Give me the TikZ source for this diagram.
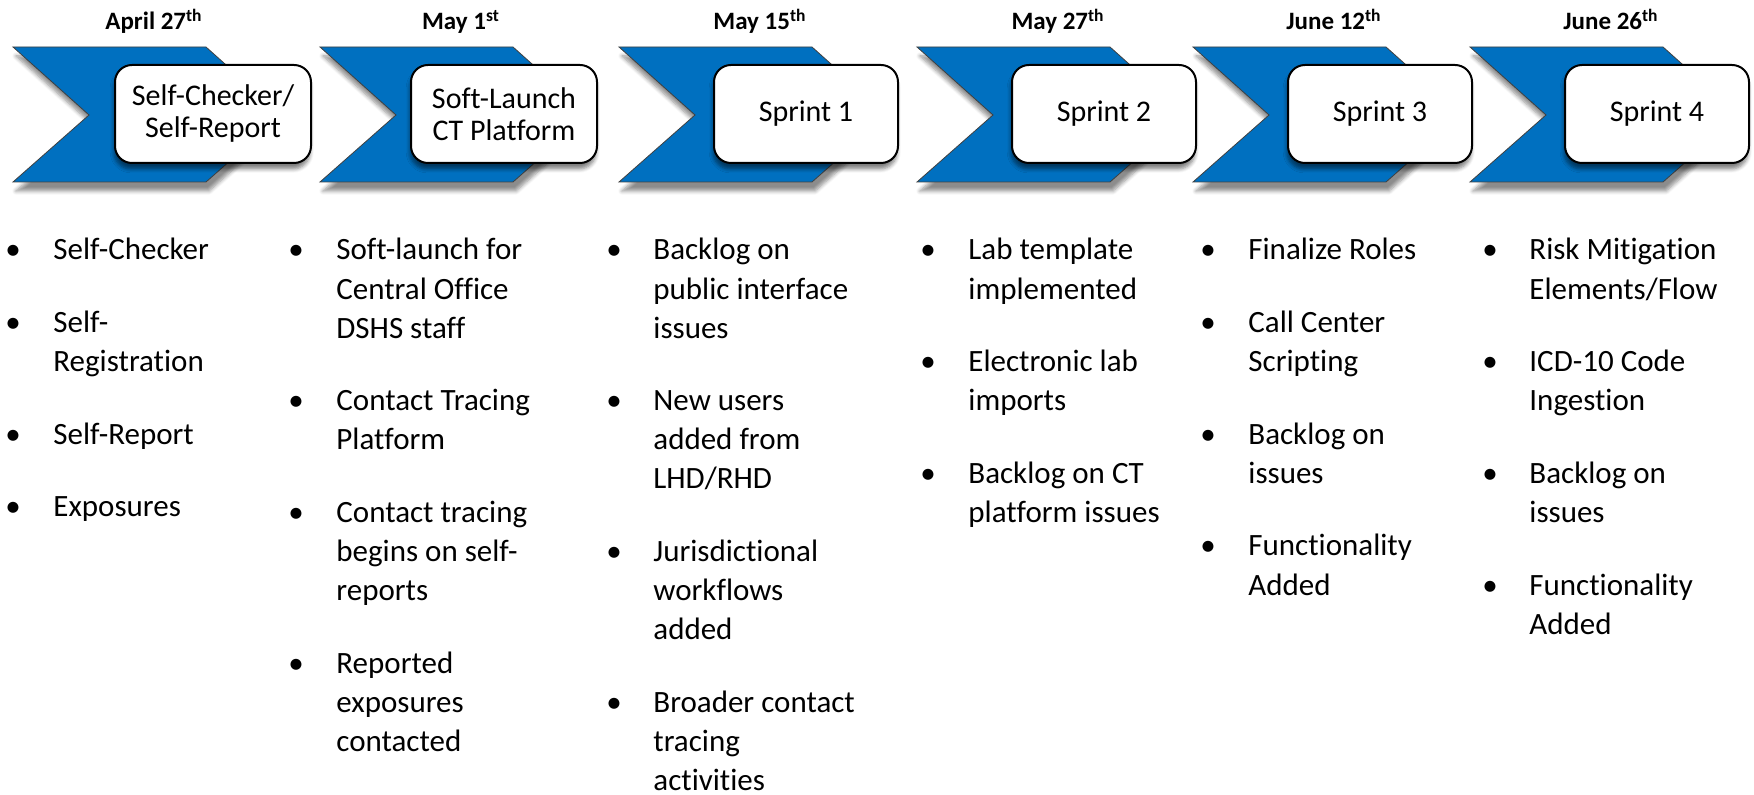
\documentclass[tikz,border=0pt]{standalone}
\usepackage{fontspec}
\setmainfont{Carlito}[Ligatures=NoCommon]
\usetikzlibrary{shadows.blur}
\definecolor{chevblue}{HTML}{0070C0}
\newcommand{\itemlines}[1]{\begin{tabular}[t]{@{}l@{}}#1\end{tabular}}
\tikzset{
  chev/.style={fill=chevblue, draw=black!75, line width=0.4pt,
    blur shadow={shadow xshift=1.5pt, shadow yshift=-4.5pt, shadow blur steps=6, shadow opacity=45}},
  phase/.style={draw=black, line width=1pt, fill=white, rounded corners=8.5pt,
    minimum width=92pt, minimum height=49pt, align=center, inner sep=0pt,
    font=\fontsize{15}{16}\selectfont,
    blur shadow={shadow xshift=-0.5pt, shadow yshift=-3pt, shadow blur steps=5, shadow opacity=50}},
  datelabel/.style={font=\bfseries\fontsize{12.5}{15}\selectfont, anchor=base, inner sep=0pt},
  itemtext/.style={anchor=base west, inner sep=0pt, font=\fontsize{15.5}{19.55}\selectfont},
  itemdot/.style={anchor=base, inner sep=0pt, font=\fontsize{15.5}{19.55}\selectfont},
}
\newcommand{\bul}[5]{%
  \node[itemdot] (#1d) at (#2,#4) {•};
  \node[itemtext] (#1) at (#3,#4) {\itemlines{#5}};}
\begin{document}
\begin{tikzpicture}[x=0.5pt,y=-0.5pt]
\useasboundingbox (0,0) rectangle (1754,795);
% chevrons
\foreach \L in {13,320,619,917,1193,1470}{
  \path[chev] (\L,47) -- ({\L+193},47) -- ({\L+269},115) -- ({\L+193},182)
    -- (\L,182) -- ({\L+76},115) -- cycle;
}
% dates
\node[datelabel] (d1) at (154,30) {April 27\textsuperscript{th}};
\node[datelabel] (d2) at (461,30) {May 1\textsuperscript{st}};
\node[datelabel] (d3) at (760,30) {May 15\textsuperscript{th}};
\node[datelabel] (d4) at (1058,30) {May 27\textsuperscript{th}};
\node[datelabel] (d5) at (1334,30) {June 12\textsuperscript{th}};
\node[datelabel] (d6) at (1611,30) {June 26\textsuperscript{th}};
% phase boxes
\node[phase, minimum width=98pt] (p1) at (213,114) {Self-Checker/\\Self-Report};
\node[phase, minimum width=93pt] (p2) at (504,114) {Soft-Launch\\CT Platform};
\node[phase] (p3) at (806,114) {Sprint 1};
\node[phase] (p4) at (1104,114) {Sprint 2};
\node[phase] (p5) at (1380,114) {Sprint 3};
\node[phase] (p6) at (1657,114) {Sprint 4};
% column 1
\bul{a1}{13}{53}{260}{Self-Checker}
\bul{a2}{13}{53}{332.6}{Self-\\Registration}
\bul{a3}{13}{53}{444.3}{Self-Report}
\bul{a4}{13}{53}{516.9}{Exposures}
% column 2
\bul{b1}{296}{336}{260}{Soft-launch for\\Central Office\\DSHS staff}
\bul{b2}{296}{336}{410.8}{Contact Tracing\\Platform}
\bul{b3}{296}{336}{522.5}{Contact tracing\\begins on self-\\reports}
\bul{b4}{296}{336}{673.3}{Reported\\exposures\\contacted}
% column 3
\bul{c1}{614}{653}{260}{Backlog on\\public interface\\issues}
\bul{c2}{614}{653}{410.8}{New users\\added from\\LHD/RHD}
\bul{c3}{614}{653}{561.6}{Jurisdictional\\workflows\\added}
\bul{c4}{614}{653}{712.4}{Broader contact\\tracing\\activities}
% column 4
\bul{e1}{928}{968}{260}{Lab template\\implemented}
\bul{e2}{928}{968}{371.7}{Electronic lab\\imports}
\bul{e3}{928}{968}{483.4}{Backlog on CT\\platform issues}
% column 5
\bul{f1}{1208}{1248}{260}{Finalize Roles}
\bul{f2}{1208}{1248}{332.6}{Call Center\\Scripting}
\bul{f3}{1208}{1248}{444.3}{Backlog on\\issues}
\bul{f4}{1208}{1248}{556.0}{Functionality\\Added}
% column 6
\bul{g1}{1490}{1529}{260}{Risk Mitigation\\Elements/Flow}
\bul{g2}{1490}{1529}{371.7}{ICD-10 Code\\Ingestion}
\bul{g3}{1490}{1529}{483.4}{Backlog on\\issues}
\bul{g4}{1490}{1529}{595.1}{Functionality\\Added}
\end{tikzpicture}
\end{document}
